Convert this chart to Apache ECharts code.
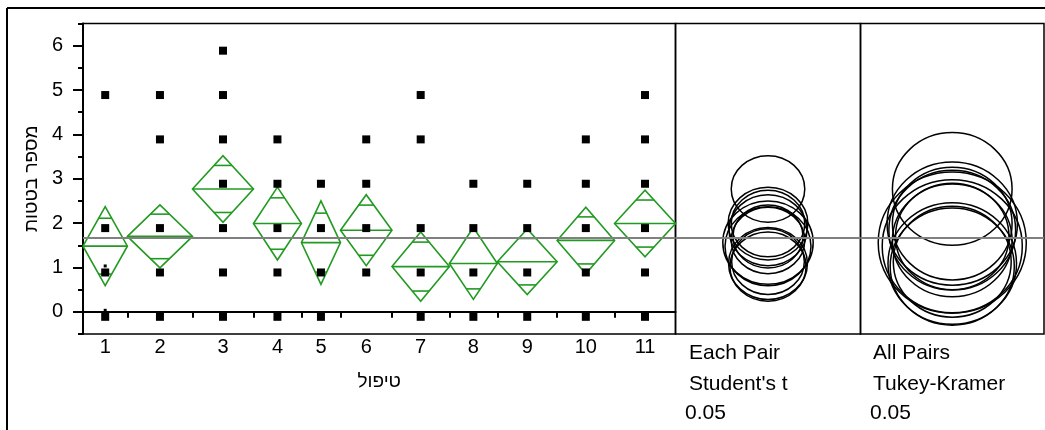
<!DOCTYPE html>
<html><head><meta charset="utf-8">
<script src="https://cdn.jsdelivr.net/npm/echarts@6/dist/echarts.min.js"></script>
<style>html,body{margin:0;padding:0;background:#fff}#c{width:1045px;height:430px}</style>
</head><body><div id="c"></div>
<script>
// ---------- data ----------
const categories = ['1','2','3','4','5','6','7','8','9','10','11'];
// relative share of the x axis taken by each group (proportional to group size)
const groupShare = [7.5, 11.0, 10.3, 8.1, 6.6, 8.7, 9.7, 8.1, 10.1, 9.7, 10.3];
const groupMeans = [1.48, 1.70, 2.77, 1.99, 1.56, 1.84, 1.02, 1.09, 1.13, 1.61, 1.99];
// 95% CI half-width of each mean (diamond half-height, Student's t circle radius)
const ciHalf = [0.89, 0.71, 0.75, 0.82, 0.94, 0.80, 0.78, 0.81, 0.74, 0.75, 0.75];
// Tukey-Kramer comparison circle radii
const tukeyRadius = [1.50, 1.20, 1.27, 1.39, 1.59, 1.35, 1.32, 1.37, 1.25, 1.27, 1.27];
const grandMean = 1.68;
const observations = [
  [5, 2, 1, 0],
  [5, 4, 2, 1, 0],
  [6, 5, 4, 3, 2, 1, 0],
  [4, 3, 2, 1, 0],
  [3, 2, 1, 0],
  [4, 3, 2, 1],
  [5, 4, 2, 1, 0],
  [3, 2, 1, 0],
  [3, 2, 1, 0],
  [4, 3, 2, 1, 0],
  [5, 4, 3, 2, 1, 0]
];
const tinyObservations = [[1, 0], [], [], [], [], [], [], [], [], [], []];
const yTickValues = [0, 1, 2, 3, 4, 5, 6];
const yMinorTickValues = [-0.5, 0.5, 1.5, 2.5, 3.5, 4.5, 5.5, 6.5];
const yMin = -0.5, yMax = 6.5;
const xTitle = 'טיפול';
const yTitle = 'מספר בטטות';
const panelTexts = [["Each Pair", "Student's t", "0.05"], ["All Pairs", "Tukey-Kramer", "0.05"]];

// ---------- derived layout helpers ----------
const bounds = [0];
groupShare.forEach(w => bounds.push(bounds[bounds.length - 1] + w));
const total = bounds[bounds.length - 1];
const centers = groupShare.map((w, i) => bounds[i] + w / 2);

const FONT = "'Liberation Sans', Arial, sans-serif";
const GREEN = '#229a22';
const G = { top: 23.5, height: 310.5 };

const chart = echarts.init(document.getElementById('c'), null, { renderer: 'canvas' });

const meanLine = {
  silent: true, symbol: ['none', 'none'],
  label: { show: false },
  lineStyle: { color: '#808080', width: 2, type: 'solid', opacity: 1 },
  emphasis: { disabled: true },
  data: [{ yAxis: grandMean }]
};

function circleSeries(idx, radii, extra) {
  return {
    type: 'custom', xAxisIndex: idx, yAxisIndex: idx + 1, z: 3,
    silent: true, clip: false,
    data: groupMeans.map((m, i) => [0, m, radii[i]]),
    encode: { x: 0, y: 1 },
    renderItem: function (params, api) {
      const c = api.coord([0, api.value(1)]);
      const ry = Math.abs(api.size([0, api.value(2)])[1]);
      return {
        type: 'ellipse',
        shape: { cx: c[0], cy: c[1], rx: ry + extra, ry: ry },
        style: { fill: 'none', stroke: '#000', lineWidth: 1.5 }
      };
    },
    markLine: Object.assign({}, meanLine)
  };
}

const hiddenY = (gi) => ({
  gridIndex: gi, type: 'value', min: yMin, max: yMax, interval: 0.5, show: false
});
const hiddenX = (gi) => ({ gridIndex: gi, type: 'value', min: -1, max: 1, show: false });

const option = {
  backgroundColor: '#fff',
  animation: false,
  grid: [
    { left: 83, top: G.top, width: 592.5, height: G.height, show: true, borderColor: '#000', borderWidth: 1.5 },
    { left: 675.5, top: G.top, width: 185, height: G.height, show: true, borderColor: '#000', borderWidth: 1.5 },
    { left: 860.5, top: G.top, width: 183.5, height: G.height, show: true, borderColor: '#000', borderWidth: 1.5 }
  ],
  xAxis: [
    {
      gridIndex: 0, type: 'value', min: 0, max: total,
      axisLine: { show: true, lineStyle: { color: '#000', width: 2 } },
      axisTick: { show: true, customValues: bounds.slice(1, -1), length: 6, lineStyle: { color: '#000', width: 2 } },
      axisLabel: {
        show: true, customValues: centers, margin: 3, color: '#000', fontSize: 20, fontFamily: FONT,
        formatter: function (v) {
          const i = centers.findIndex(c => Math.abs(c - v) < 1e-6);
          return i >= 0 ? categories[i] : '';
        }
      },
      splitLine: { show: false },
      name: xTitle, nameLocation: 'middle', nameGap: 38,
      nameTextStyle: { color: '#000', fontSize: 19, fontFamily: FONT }
    },
    hiddenX(1), hiddenX(2)
  ],
  yAxis: [
    {
      gridIndex: 0, type: 'value', min: yMin, max: yMax, interval: 0.5, position: 'left',
      axisLine: { show: true, lineStyle: { color: '#000', width: 2 } },
      axisTick: { show: true, customValues: yTickValues, length: 10, lineStyle: { color: '#000', width: 2 } },
      axisLabel: { show: true, customValues: yTickValues, margin: 20, color: '#000', fontSize: 20, fontFamily: FONT },
      splitLine: { show: false },
      name: yTitle, nameLocation: 'middle', nameRotate: 90, nameGap: 40,
      nameTextStyle: { color: '#000', fontSize: 19, fontFamily: FONT }
    },
    {
      gridIndex: 0, type: 'value', min: yMin, max: yMax, interval: 0.5, position: 'left', offset: 0,
      axisLine: { show: false },
      axisTick: { show: true, customValues: yMinorTickValues, length: 5, lineStyle: { color: '#000', width: 2 } },
      axisLabel: { show: false }, splitLine: { show: false }
    },
    hiddenY(1), hiddenY(2)
  ],
  graphic: [
    { type: 'line', shape: { x1: 7, y1: 8, x2: 1045, y2: 8 }, style: { stroke: '#000', lineWidth: 2 }, silent: true },
    { type: 'line', shape: { x1: 7, y1: 8, x2: 7, y2: 430 }, style: { stroke: '#000', lineWidth: 2 }, silent: true }
  ].concat(
    panelTexts[0].map((t, i) => ({
      type: 'text', x: i === 2 ? 685 : 689, y: [353, 384, 413][i], silent: true,
      style: { text: t, font: '21px ' + FONT, fill: '#000', align: 'left', verticalAlign: 'middle' }
    })),
    panelTexts[1].map((t, i) => ({
      type: 'text', x: i === 2 ? 870 : 873, y: [353, 384, 413][i], silent: true,
      style: { text: t, font: '21px ' + FONT, fill: '#000', align: 'left', verticalAlign: 'middle' }
    }))
  ),
  series: [
    {
      type: 'custom', xAxisIndex: 0, yAxisIndex: 0, z: 2, silent: true,
      data: groupMeans.map((m, i) => [bounds[i], bounds[i + 1], m, ciHalf[i]]),
      encode: { x: [0, 1], y: 2 },
      renderItem: function (params, api) {
        const x0 = api.value(0), x1 = api.value(1), m = api.value(2), h = api.value(3);
        const xc = (x0 + x1) / 2, hw = (x1 - x0) / 2;
        const o = h / Math.SQRT2;
        const cw = hw * (1 - o / h);
        const pL = api.coord([x0, m]), pR = api.coord([x1, m]);
        const pT = api.coord([xc, m + h]), pB = api.coord([xc, m - h]);
        const st = { stroke: GREEN, lineWidth: 1.6, fill: 'none' };
        const chord = (y) => {
          const a = api.coord([xc - cw, y]), b = api.coord([xc + cw, y]);
          return { type: 'line', shape: { x1: a[0], y1: a[1], x2: b[0], y2: b[1] }, style: st };
        };
        return {
          type: 'group',
          children: [
            { type: 'polygon', shape: { points: [pL, pT, pR, pB] }, style: st },
            { type: 'line', shape: { x1: pL[0], y1: pL[1], x2: pR[0], y2: pR[1] }, style: st },
            chord(m + o), chord(m - o)
          ]
        };
      },
      markLine: Object.assign({}, meanLine)
    },
    {
      type: 'scatter', xAxisIndex: 0, yAxisIndex: 0, z: 4, silent: true,
      symbol: 'rect', symbolSize: 8, symbolOffset: [0, 5],
      itemStyle: { color: '#000', opacity: 1 },
      data: observations.flatMap((vals, i) => vals.map(v => [centers[i], v]))
    },
    {
      type: 'scatter', xAxisIndex: 0, yAxisIndex: 0, z: 4, silent: true,
      symbol: 'rect', symbolSize: 3, symbolOffset: [0, -1.5],
      itemStyle: { color: '#000', opacity: 1 },
      data: tinyObservations.flatMap((vals, i) => vals.map(v => [centers[i], v]))
    },
    circleSeries(1, ciHalf, 3.5),
    circleSeries(2, tukeyRadius, 3.5)
  ]
};
chart.setOption(option);
</script>
</body></html>
